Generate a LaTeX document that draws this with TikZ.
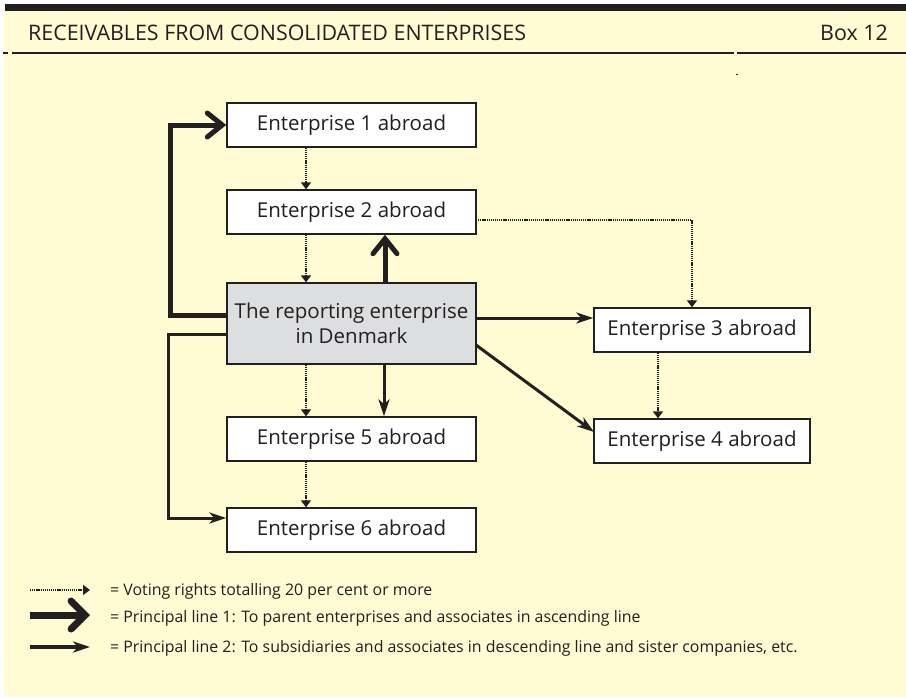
\documentclass[tikz,border=0pt]{standalone}
\usepackage{fontspec}
\setmainfont{Open Sans}
\usetikzlibrary{arrows.meta}
\definecolor{bgyellow}{RGB}{255,251,210}
\definecolor{ink}{RGB}{35,31,32}
\definecolor{repgray}{RGB}{221,222,224}
\tikzset{
  ebox/.style={draw=ink, line width=1.4pt, fill=white, minimum width=249pt, minimum height=44pt, inner sep=0pt, font=\fontsize{20.5}{24}\selectfont, text=ink},
  ebox3/.style={ebox, minimum width=216pt},
  repbox/.style={ebox, fill=repgray, minimum height=81pt, align=center, font=\fontsize{20.5}{25}\selectfont},
  vote/.style={draw=ink, line width=2.4pt, dash pattern=on 1.2pt off 0.9pt, -{Triangle[length=7pt,width=10pt,sep=0pt]}},
  pline1/.style={draw=ink, line width=5pt, -{Straight Barb[length=15pt,width=24pt,line cap=round]}},
  pline2/.style={draw=ink, line width=3pt, -{Stealth[length=17pt,width=11pt,inset=5pt]}},
  legtext/.style={anchor=base west, inner sep=0pt, font=\fontsize{15.9}{18}\selectfont, text=ink},
}
\begin{document}
\begin{tikzpicture}[x=1pt, y=-1pt]
\useasboundingbox (0,0) rectangle (906,697);
\fill[white] (0,0) rectangle (906,697);
\fill[bgyellow] (4,6) rectangle (906,697);
\fill[ink] (5,4) rectangle (906,11);
\node[anchor=base west, inner sep=0pt, font=\fontsize{21.4}{24}\selectfont, text=ink] (title) at (28,40) {RECEIVABLES FROM CONSOLIDATED ENTERPRISES};
\node[anchor=base east, inner sep=0pt, font=\fontsize{21.4}{24}\selectfont, text=ink] (boxno) at (888,40) {Box 12};
\draw[ink, line width=2.2pt] (3,53) -- (8,53);
\draw[ink, line width=2.2pt] (12,53) -- (734,53);
\draw[ink, line width=2.2pt] (736.5,53) -- (906,53);
\fill[ink] (735.5,73.5) rectangle (737.5,75);

\node[ebox] (e1) at (351.5,125) {Enterprise 1 abroad};
\node[ebox] (e2) at (351.5,212) {Enterprise 2 abroad};
\node[repbox] (rep) at (351.5,323.5) {The reporting enterprise\\in Denmark};
\node[ebox] (e5) at (351.5,439) {Enterprise 5 abroad};
\node[ebox] (e6) at (351.5,530) {Enterprise 6 abroad};
\node[ebox3] (e3) at (702,330) {Enterprise 3 abroad};
\node[ebox3] (e4) at (702,441) {Enterprise 4 abroad};

\coordinate (lt) at (170,315);
\coordinate (lb) at (168,334);
\coordinate (e6in) at (168,518);
\coordinate (e2out) at (476,220);
\coordinate (e3top) at (692,220);
\coordinate (r3) at (476,318);
\coordinate (r4) at (476,345);
\coordinate (e4in) at (594,432);

% dotted
\draw[vote] (e1.south -| 306,0) -- (e2.north -| 306,0);
\draw[vote] (e2.south -| 306,0) -- (rep.north -| 306,0);
\draw[vote] (rep.south -| 306,0) -- (e5.north -| 306,0);
\draw[vote] (e5.south -| 306,0) -- (e6.north -| 306,0);
\draw[vote] (e2out) -- (e3top) -- (e3.north -| e3top);
\draw[vote] (e3.south -| 658,0) -- (e4.north -| 658,0);
% principal line 1
\draw[pline1, line join=miter] (rep.west |- lt) -- (lt) -- (lt |- e1.west) -- (e1.west);
\draw[pline1] (rep.north -| 385,0) -- (e2.south -| 385,0);
% principal line 2
\draw[pline2] (r3) -- (e3.west |- r3);
\draw[pline2] (r4) -- (e4in);
\draw[pline2] (rep.south -| 384,0) -- (e5.north -| 384,0);
\draw[pline2, line join=miter] (rep.west |- lb) -- (lb) -- (e6in) -- (e6.west |- e6in);

% legend
\coordinate (l1a) at (30,590); \coordinate (l1b) at (90,590);
\coordinate (l2a) at (30,615); \coordinate (l2b) at (90,615);
\coordinate (l3a) at (30,647); \coordinate (l3b) at (90,647);
\draw[vote] (l1a) -- (l1b);
\draw[draw=ink, line width=7pt, -{Straight Barb[length=14pt,width=28pt,line cap=round]}] (l2a) -- (l2b);
\draw[pline2, line width=3.2pt] (l3a) -- (l3b);
\node[legtext] (t1) at (110,595.5) {= Voting rights totalling 20 per cent or more};
\node[legtext] (t2) at (110,622.5) {= Principal line 1: To parent enterprises and associates in ascending line};
\node[legtext] (t3) at (110,652.5) {= Principal line 2: To subsidiaries and associates in descending line and sister companies, etc.};
\end{tikzpicture}
\end{document}
